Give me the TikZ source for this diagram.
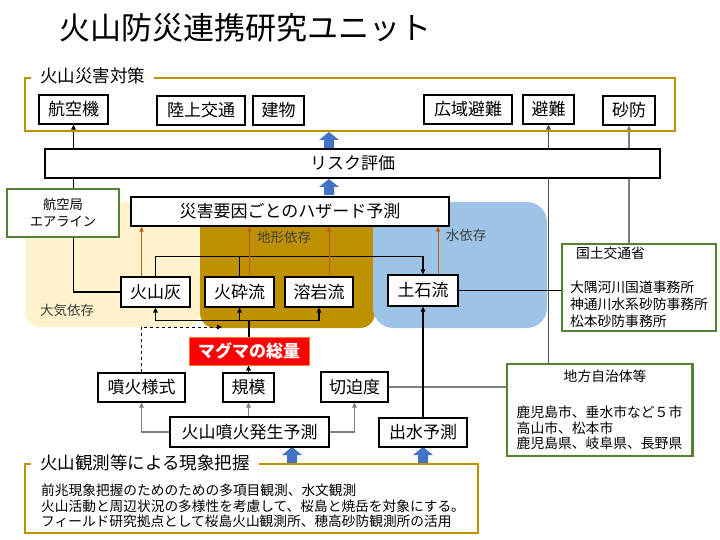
\documentclass[tikz,border=0pt]{standalone}
\usepackage{fontspec}
\setmainfont{Noto Sans CJK JP}
\usetikzlibrary{arrows.meta,positioning,calc}
\pgfdeclarelayer{regions}
\pgfdeclarelayer{lines}
\pgfsetlayers{regions,lines,main}
\definecolor{goldline}{HTML}{BF9000}
\definecolor{paleyellow}{HTML}{FFF2CC}
\definecolor{paleblue}{HTML}{9DC3E6}
\definecolor{rust}{HTML}{C55A11}
\definecolor{leafgreen}{HTML}{548235}
\definecolor{arrowblue}{HTML}{4472C4}
\definecolor{magmared}{HTML}{FF0000}
\definecolor{magmaedge}{HTML}{ED7D31}
\newcommand{\blockup}[1]{\fill[arrowblue] (#1) ++(-5,0) -- ++(0,-8) -- ++(-5,0) -- ++(10,-8) -- ++(10,8) -- ++(-5,0) -- ++(0,8) -- cycle;}

\begin{document}
\begin{tikzpicture}[x=1pt,y=-1pt,
    box/.style={draw,fill=white,line width=1.1pt,inner sep=0pt,minimum height=29pt,font=\fontsize{17}{20}\selectfont},
    agency/.style={draw=leafgreen,fill=white,line width=2.4pt,font=\fontsize{13.8}{17}\selectfont},
    frame/.style={draw=goldline,line width=1.1pt},
    framelabel/.style={fill=white,anchor=west,inner xsep=9pt,font=\fontsize{17.5}{20}\selectfont},
    regionlabel/.style={text=black!75,font=\fontsize{13.5}{16}\selectfont},
    link/.style={line width=1.1pt},
    grey/.style={line width=1.1pt,draw=black!50},
    tip/.style={-{Triangle[length=5pt,width=4.5pt]}},
    hazardtip/.style={draw=rust,line width=1pt,-{Triangle[length=5pt,width=4pt]}}]

\useasboundingbox (0,0) rectangle (720,540);

\node (title) at (245,28) {\fontsize{31}{36}\selectfont 火山防災連携研究ユニット};

% 対策
\draw[frame] (25,78) rectangle (675,131);
\node[framelabel] (taisaku) at (31,76) {火山災害対策};
\node[box,minimum width=69pt] (koukuuki) at (73.5,109.5) {航空機};
\node[box,minimum width=88pt] (rikujou) at (201,110.5) {陸上交通};
\node[box,minimum width=51pt] (tatemono) at (278.5,110.5) {建物};
\node[box,minimum width=88pt] (kouiki) at (468,109.5) {広域避難};
\node[box,minimum width=51pt] (hinan) at (548.5,109.5) {避難};
\node[box,minimum width=52pt] (sabou) at (629,110.5) {砂防};

\node[box,minimum width=615pt] (risk) at (352.5,163.5) {リスク評価};
\node[box,minimum width=318pt] (hazard) at (290,211.5) {災害要因ごとのハザード予測};

\node[regionlabel] (taiki) at (67,310) {大気依存};
\node[regionlabel] (chikei) at (284,237) {地形依存};
\node[regionlabel] (mizu) at (466,235) {水依存};

\node[box,minimum width=69pt,minimum height=30pt] (kazanbai) at (155.5,292) {火山灰};
\node[box,minimum width=69pt,minimum height=30pt] (kasairyu) at (239.5,292) {火砕流};
\node[box,minimum width=68pt,minimum height=30pt] (yoganryu) at (319,292) {溶岩流};
\node[box,minimum width=70pt,minimum height=31pt] (dosekiryu) at (423,290.5) {土石流};

\node[box,fill=magmared,draw=magmaedge,line width=1pt,text=white,font=\bfseries\fontsize{17}{20}\selectfont,minimum width=120pt,minimum height=28pt] (magma) at (249,351) {マグマの総量};

\node[box,minimum width=87pt] (funka) at (141.5,387.5) {噴火様式};
\node[box,minimum width=51pt] (kibo) at (248.5,387.5) {規模};
\node[box,minimum width=67pt,minimum height=30pt] (seppaku) at (354.5,387) {切迫度};
\node[box,minimum width=159pt,minimum height=30pt] (yosoku) at (249.5,432) {火山噴火発生予測};
\node[box,minimum width=88pt] (shussui) at (423,432.5) {出水予測};

\node[agency,minimum width=112pt,minimum height=48pt,align=center,font=\fontsize{13.3}{17}\selectfont] (koukuukyoku) at (63,213) {航空局\\エアライン};
\node[agency,align=left,inner xsep=8pt,inner ysep=3pt] (mlit) at (639,287.5) {\hspace*{6pt}国土交通省\\[17pt]大隅河川国道事務所\\神通川水系砂防事務所\\松本砂防事務所};
\node[agency,align=left,inner xsep=10pt,inner ysep=6pt,font=\fontsize{13.8}{15.5}\selectfont] (jichitai) at (599.5,410) {\hspace*{47pt}地方自治体等\\[21pt]鹿児島市、垂水市など５市\\高山市、松本市\\鹿児島県、岐阜県、長野県};

% 観測
\draw[frame] (25,464) rectangle (478,533);
\node[framelabel] (genshou) at (31,463) {火山観測等による現象把握};
\node[anchor=north west,align=left,inner sep=0pt,font=\fontsize{13.7}{15.5}\selectfont] (kansoku) at (41,484) {前兆現象把握のためのための多項目観測、水文観測\\火山活動と周辺状況の多様性を考慮して、桜島と焼岳を対象にする。\\フィールド研究拠点として桜島火山観測所、穂高砂防観測所の活用};

\begin{pgfonlayer}{lines}
\blockup{329,148}
\blockup{329,195}
\blockup{292,463}
\blockup{423,463}

\draw[link,tip] (kazanbai.west) -| (koukuuki.south);
\draw[link,draw=black!70,tip] (hinan.south |- jichitai.north) -- (hinan.south);
\draw[grey,tip] (sabou.south |- mlit.north) -- (sabou.south);
\draw[link] (dosekiryu.east) -- (dosekiryu.east -| mlit.west);
\draw[grey] (seppaku.east) -- (seppaku.east -| jichitai.west);

\draw[link,tip] (kazanbai.north) -- ++(0,-20) -| (dosekiryu.north);
\draw[link] (kasairyu.north) -- ++(0,-20);

\draw[hazardtip] ([xshift=-14pt]kazanbai.north) -- ([xshift=-14pt]kazanbai.north |- hazard.south);
\draw[hazardtip] ([xshift=10pt]kasairyu.north) -- ([xshift=10pt]kasairyu.north |- hazard.south);
\draw[hazardtip] ([xshift=10pt]yoganryu.north) -- ([xshift=10pt]yoganryu.north |- hazard.south);
\draw[hazardtip] ([xshift=15pt]dosekiryu.north) -- ([xshift=15pt]dosekiryu.north |- hazard.south);

\draw[link] (magma.north) -- ++(0,-16) coordinate (fork);
\draw[link,tip] (fork) -| (kazanbai.south);
\draw[link,tip] (fork) -| (kasairyu.south);
\draw[link,tip] (fork) -| (yoganryu.south);

\coordinate (dashend) at (222,327);
\draw[link,line width=0.9pt,dashed,tip] (funka.north) |- (dashend);

\draw[link,tip] (kibo.north) -- (kibo.north |- magma.south);
\draw[grey,tip] (yosoku.west) -| (funka.south);
\draw[grey,tip] (kibo.south |- yosoku.north) -- (kibo.south);
\draw[grey,tip] (yosoku.east) -| (seppaku.south);
\draw[link,tip] (shussui.north) -- (dosekiryu.south);
\end{pgfonlayer}

\begin{pgfonlayer}{regions}
\fill[paleyellow,rounded corners=15pt] (25,202) rectangle (200,327);
\fill[goldline,rounded corners=15pt] (200,202) rectangle (375,328);
\fill[paleblue,rounded corners=20pt] (373,202) rectangle (547,328);
\end{pgfonlayer}
\end{tikzpicture}
\end{document}
